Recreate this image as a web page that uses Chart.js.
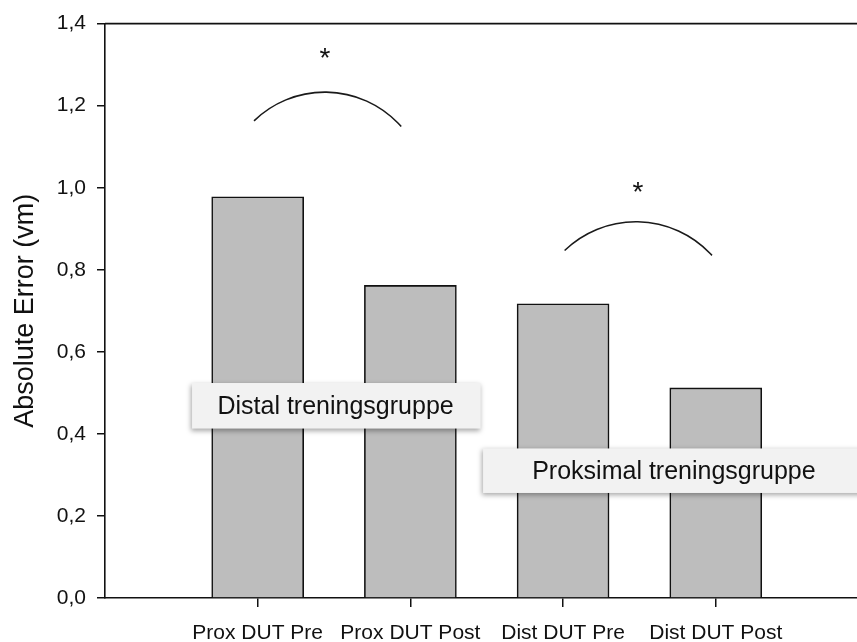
<!DOCTYPE html>
<html>
<head>
<meta charset="utf-8">
<script src="https://cdn.jsdelivr.net/npm/chart.js@4"></script>
<style>
  html, body { margin: 0; padding: 0; background: #fff; }
  canvas { display: block; }
</style>
</head>
<body>
<canvas id="chart" width="857" height="642" style="width:857px;height:642px"></canvas>
<script>
// data
const categories = ["Prox DUT Pre", "Prox DUT Post", "Dist DUT Pre", "Dist DUT Post"];
const absError = [0.978, 0.762, 0.717, 0.512];
const yTicks = [0, 0.2, 0.4, 0.6, 0.8, 1.0, 1.2, 1.4];

// significance arcs (data units: x = category slot, y = value)
const arcs = [
  { start: [0.976, 1.163], top: [1.44, 1.233], end: [1.94, 1.149], star: [1.44, 1.311] },
  { start: [3.01, 0.847], top: [3.49, 0.917], end: [3.975, 0.835], star: [3.49, 0.985] }
];
// group label boxes
const groupBoxes = [
  { text: "Distal treningsgruppe", x0: 0.57, x1: 2.46, y0: 0.524, y1: 0.413, tx: 1.51 },
  { text: "Proksimal treningsgruppe", x0: 2.476, x1: 5.2, y0: 0.3645, y1: 0.256, tx: 3.726 }
];

const FONT = "'Liberation Sans', Arial, sans-serif";

const extras = {
  id: "extras",
  afterDatasetsDraw(chart) {
    const ctx = chart.ctx;
    const xs = chart.scales.x, ys = chart.scales.y;
    const px = v => xs.getPixelForValue(v);
    const py = v => ys.getPixelForValue(v);
    const area = chart.chartArea;

    ctx.save();
    // top frame line
    ctx.strokeStyle = "#111";
    ctx.lineWidth = 1.6;
    ctx.beginPath();
    ctx.moveTo(area.left, area.top);
    ctx.lineTo(chart.width, area.top);
    ctx.stroke();

    // arcs + stars
    arcs.forEach(a => {
      const p1 = [px(a.start[0]), py(a.start[1])];
      const p2 = [px(a.top[0]), py(a.top[1])];
      const p3 = [px(a.end[0]), py(a.end[1])];
      const d = 2 * (p1[0] * (p2[1] - p3[1]) + p2[0] * (p3[1] - p1[1]) + p3[0] * (p1[1] - p2[1]));
      const s1 = p1[0] ** 2 + p1[1] ** 2, s2 = p2[0] ** 2 + p2[1] ** 2, s3 = p3[0] ** 2 + p3[1] ** 2;
      const cx = (s1 * (p2[1] - p3[1]) + s2 * (p3[1] - p1[1]) + s3 * (p1[1] - p2[1])) / d;
      const cy = (s1 * (p3[0] - p2[0]) + s2 * (p1[0] - p3[0]) + s3 * (p2[0] - p1[0])) / d;
      const r = Math.hypot(p1[0] - cx, p1[1] - cy);
      ctx.strokeStyle = "#1a1a1a";
      ctx.lineWidth = 1.6;
      ctx.beginPath();
      ctx.arc(cx, cy, r, Math.atan2(p1[1] - cy, p1[0] - cx), Math.atan2(p3[1] - cy, p3[0] - cx), false);
      ctx.stroke();

      ctx.fillStyle = "#111";
      ctx.font = "28px " + FONT;
      ctx.textAlign = "center";
      ctx.textBaseline = "alphabetic";
      ctx.fillText("*", px(a.star[0]), py(a.star[1]) + 7);
    });

    // group label boxes
    groupBoxes.forEach(b => {
      const x0 = px(b.x0), x1 = px(b.x1), y0 = py(b.y0), y1 = py(b.y1);
      ctx.save();
      ctx.shadowColor = "rgba(0,0,0,0.35)";
      ctx.shadowBlur = 5;
      ctx.shadowOffsetX = -1;
      ctx.shadowOffsetY = 2;
      ctx.fillStyle = "#f2f2f2";
      ctx.fillRect(x0, y0, x1 - x0, y1 - y0);
      ctx.restore();
      ctx.fillStyle = "#111";
      ctx.font = "25px " + FONT;
      ctx.textAlign = "center";
      ctx.textBaseline = "middle";
      ctx.fillText(b.text, px(b.tx), (y0 + y1) / 2 + 1);
    });
    ctx.restore();
  }
};

const ctx = document.getElementById("chart");

const errorChart = new Chart(ctx, {
  type: "bar",
  data: {
    datasets: [{
      label: "Absolute Error",
      data: absError.map((v, i) => ({ x: i + 1, y: v })),
      backgroundColor: "#bdbdbd",
      borderColor: "#111",
      borderWidth: 1.6,
      barThickness: 92
    }]
  },
  options: {
    responsive: false,
    animation: false,
    devicePixelRatio: 1,
    layout: { padding: { top: 18, right: 0, left: 0, bottom: 0 } },
    plugins: {
      legend: { display: false },
      tooltip: { enabled: false }
    },
    scales: {
      x: {
        type: "linear",
        offset: false,
        min: 0,
        max: 4.925,
        afterBuildTicks: scale => {
          scale.ticks = categories.map((c, i) => ({ value: i + 1 }));
        },
        afterFit: scale => { scale.height = 44; },
        ticks: {
          callback: v => categories[v - 1],
          color: "#111",
          font: { family: FONT, size: 21 },
          padding: 14,
          maxRotation: 0,
          autoSkip: false
        },
        grid: { offset: false, drawOnChartArea: false, drawTicks: true, tickLength: 9, color: "#111", lineWidth: 1.5 },
        border: { color: "#111", width: 1.6 }
      },
      y: {
        min: 0,
        max: 1.4,
        afterBuildTicks: scale => {
          scale.ticks = yTicks.map(v => ({ value: v }));
        },
        afterFit: scale => { scale.width = 105; },
        ticks: {
          callback: v => v.toFixed(1).replace(".", ","),
          color: "#111",
          font: { family: FONT, size: 21 },
          padding: 11
        },
        title: {
          display: true,
          text: "Absolute Error (vm)",
          color: "#111",
          font: { family: FONT, size: 27 },
          padding: { top: 9, bottom: 0 }
        },
        grid: { drawOnChartArea: false, drawTicks: true, tickLength: 8, color: "#111", lineWidth: 1.5 },
        border: { color: "#111", width: 1.6 }
      }
    }
  },
  plugins: [extras]
});
</script>
</body>
</html>
